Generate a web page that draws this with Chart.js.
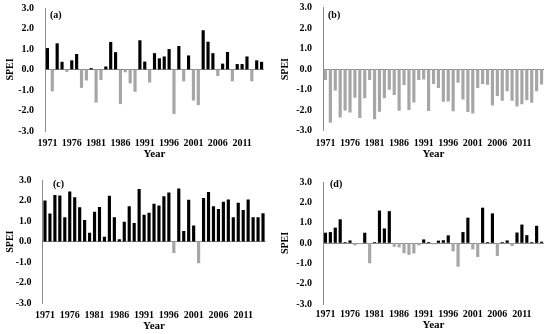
<!DOCTYPE html>
<html>
<head>
<meta charset="utf-8">
<script src="https://cdn.jsdelivr.net/npm/chart.js@4.4.1/dist/chart.umd.min.js"></script>
<style>
    body { margin: 0; background: #fff; }
    #wrap { position: relative; width: 550px; height: 334px; }
    canvas { position: absolute; }
</style>
</head>
<body>
<div id="wrap">
    <canvas id="pa" width="275" height="167" style="left:0;top:0"></canvas>
    <canvas id="pb" width="275" height="167" style="left:275px;top:0"></canvas>
    <canvas id="pc" width="275" height="167" style="left:0;top:167px"></canvas>
    <canvas id="pd" width="275" height="167" style="left:275px;top:167px"></canvas>
</div>
<script>
/* Четыре панели SPEI по годам 1971–2015 */

const YEARS = [
    '1971', '1972', '1973', '1974', '1975', '1976', '1977', '1978', '1979', '1980',
    '1981', '1982', '1983', '1984', '1985', '1986', '1987', '1988', '1989', '1990',
    '1991', '1992', '1993', '1994', '1995', '1996', '1997', '1998', '1999', '2000',
    '2001', '2002', '2003', '2004', '2005', '2006', '2007', '2008', '2009', '2010',
    '2011', '2012', '2013', '2014', '2015',
];

const SPEI_A = [
    1.03, -1.05, 1.26, 0.36, -0.1, 0.43, 0.74, -0.88, -0.52, 0.05,
    -1.6, -0.5, 0.13, 1.33, 0.83, -1.67, -0.12, -0.66, -1.07, 1.41,
    0.37, -0.62, 0.78, 0.53, 0.62, 0.98, -2.15, 1.13, -0.56, 0.67,
    -1.5, -1.72, 1.9, 1.34, 0.78, -0.3, 0.27, 0.84, -0.56, 0.25,
    0.25, 0.62, -0.56, 0.43, 0.36,
];
const SPEI_B = [
    -0.52, -2.6, -1.03, -2.34, -2.0, -2.1, -1.38, -2.36, -1.4, -0.52,
    -2.43, -2.06, -1.4, -0.99, -1.24, -2.01, -0.76, -1.98, -1.61, -0.51,
    -0.49, -2.02, -0.71, -0.9, -1.58, -1.56, -2.04, -0.65, -1.46, -2.07,
    -2.15, -0.9, -0.71, -0.75, -1.76, -1.3, -1.53, -1.06, -1.53, -1.81,
    -1.7, -1.5, -1.62, -1.06, -0.74,
];
const SPEI_C = [
    2.0, 1.36, 2.26, 2.24, 1.18, 2.44, 2.16, 1.67, 1.04, 0.42,
    1.45, 1.68, 0.22, 2.23, 1.18, 0.1, 0.96, 1.72, 0.9, 2.56,
    1.3, 1.4, 1.84, 1.75, 2.2, 2.39, -0.54, 2.58, 0.51, 2.03,
    0.77, -1.04, 2.12, 2.41, 1.72, 1.58, 1.93, 2.04, 1.18, 1.88,
    1.53, 2.04, 1.18, 1.18, 1.37,
];
const SPEI_D = [
    0.49, 0.52, 0.74, 1.15, 0.02, 0.11, -0.1, -0.04, 0.49, -0.98,
    0.02, 1.58, 0.7, 1.55, -0.17, -0.2, -0.49, -0.57, -0.5, -0.1,
    0.16, 0.02, -0.05, 0.1, 0.12, 0.36, -0.4, -1.15, 0.52, 1.23,
    -0.3, -0.67, 1.72, 0.02, 1.44, -0.62, 0.03, 0.11, -0.13, 0.5,
    0.89, 0.37, 0.02, 0.83, 0.05,
];

const COLOR_POS = '#000000';
const COLOR_NEG = '#a6a6a6';
const COLOR_AXIS = '#8a8a8a';
const FONT = 'Liberation Serif';

// Подпись панели "(a)" и т.п. в углу области графика
const panelTag = {
    id: 'panelTag',
    afterDraw(chart, args, opts) {
        const { ctx } = chart;
        ctx.save();
        ctx.font = `bold 10px "${FONT}"`;
        ctx.fillStyle = '#000';
        ctx.textBaseline = 'middle';
        ctx.fillText(opts.text, opts.x, opts.y);
        ctx.restore();
    },
};

const PANELS = [
    { id: 'pa', tag: '(a)', data: SPEI_A, left: 45, right: 264, top: 8, bottom: 131, tickPad: 6, yearPad: 6.4, tagX: 50, tagY: 15 },
    { id: 'pb', tag: '(b)', data: SPEI_B, left: 48, right: 269, top: 7.5, bottom: 130.7, tickPad: 6.5, yearPad: 6.4, tagX: 53, tagY: 15 },
    { id: 'pc', tag: '(c)', data: SPEI_C, left: 42.5, right: 265.5, top: 13.3, bottom: 136, tickPad: 6, yearPad: 1.4, tagX: 53, tagY: 17 },
    { id: 'pd', tag: '(d)', data: SPEI_D, left: 48, right: 269, top: 15, bottom: 137, tickPad: 4, yearPad: 2, tagX: 55, tagY: 17 },
];

function drawPanel(p) {
    const canvas = document.getElementById(p.id);
    const W = canvas.width;
    const H = canvas.height;
    const padding = { left: 0, top: p.top, right: W - p.right, bottom: 0 };

    const chart = new Chart(canvas, {
        type: 'bar',
        data: {
            labels: YEARS,
            datasets: [{
                data: p.data,
                backgroundColor: p.data.map((v) => (v >= 0 ? COLOR_POS : COLOR_NEG)),
                barThickness: 2.5,
            }],
        },
        options: {
            responsive: false,
            animation: false,
            devicePixelRatio: 1,
            layout: { autoPadding: false, padding },
            plugins: {
                legend: { display: false },
                tooltip: { enabled: false },
                panelTag: { text: p.tag, x: p.tagX, y: p.tagY },
            },
            scales: {
                x: {
                    grid: { display: false, drawTicks: false },
                    border: { display: false },
                    ticks: {
                        autoSkip: false,
                        maxRotation: 0,
                        padding: p.tickPad,
                        color: '#000',
                        font: { family: FONT, size: 10, weight: 'bold' },
                        callback: (v, i) => (i % 5 === 0 ? YEARS[i] : ''),
                    },
                    title: {
                        display: true,
                        text: 'Year',
                        color: '#000',
                        padding: { top: 0, bottom: p.yearPad },
                        font: { family: FONT, size: 11, weight: 'bold' },
                    },
                    afterFit: (s) => {
                        s.height = H - p.bottom;
                        s.paddingLeft = 0;
                        s.paddingRight = 0;
                    },
                },
                y: {
                    min: -3,
                    max: 3,
                    ticks: {
                        stepSize: 1,
                        autoSkip: false,
                        padding: 11,
                        color: '#000',
                        font: { family: FONT, size: 10, weight: 'bold' },
                        callback: (v) => Number(v).toFixed(1),
                    },
                    grid: {
                        drawTicks: false,
                        color: (c) => (c.tick && c.tick.value === 0 ? COLOR_AXIS : 'rgba(0,0,0,0)'),
                    },
                    border: { display: true, color: COLOR_AXIS },
                    title: {
                        display: true,
                        text: 'SPEI',
                        color: '#000',
                        padding: { top: 4, bottom: 0 },
                        font: { family: FONT, size: 10, weight: 'bold' },
                    },
                    afterFit: (s) => {
                        s.width = p.left;
                        s.paddingTop = 0;
                        s.paddingBottom = 0;
                    },
                },
            },
        },
        plugins: [panelTag],
    });

    // если Chart.js всё же сдвинул верх области — подгоняем отступ и перерисовываем
    const extra = chart.chartArea.top - p.top;
    if (Math.abs(extra) > 0.1) {
        chart.config.options.layout.padding = { ...padding, top: p.top - extra };
        chart.update();
    }
}

PANELS.forEach(drawPanel);
</script>
</body>
</html>
